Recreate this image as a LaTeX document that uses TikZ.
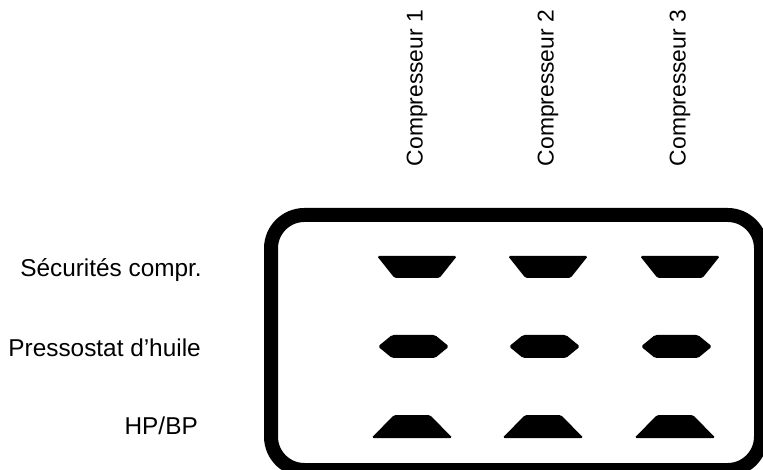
\documentclass[tikz,border=0pt]{standalone}
\usepackage{fontspec}
\setmainfont{Liberation Sans}

\tikzset{
	lbl/.style={font=\fontsize{19.5}{22}\selectfont, inner sep=0pt},
	rowlbl/.style={lbl, font=\fontsize{20.8}{23}\selectfont, anchor=base east},
	pad/.style={fill=black, rounded corners=1.5pt},
}

\begin{document}
\begin{tikzpicture}[x=0.3mm,y=-0.3mm]
	\useasboundingbox (0,0) rectangle (763,470);
	\draw[line width=4.2mm, rounded corners=10mm] (271,215) rectangle (761,470);
	\foreach \x [count=\i] in {417,548,680} {
		\node[lbl, rotate=90] (c\i) at (\x,88) {Compresseur \i};
		\fill[pad] (\x-40,256) -- (\x+40,256) -- (\x+22.5,278) -- (\x-22.5,278) -- cycle;
		\fill[pad] (\x-39,346.5) -- (\x-25,335) -- (\x+18,335) -- (\x+32,346.5)
			-- (\x+18,358) -- (\x-25,358) -- cycle;
		\fill[pad] (\x-23,415) -- (\x+13,415) -- (\x+35.5,438) -- (\x-45.5,438) -- cycle;
	}
	\node[rowlbl] (sec) at (202,277) {Sécurités compr.};
	\node[rowlbl] (pre) at (201,356) {Pressostat d’huile};
	\node[rowlbl] (hpbp) at (198,435) {HP/BP};
\end{tikzpicture}
\end{document}
